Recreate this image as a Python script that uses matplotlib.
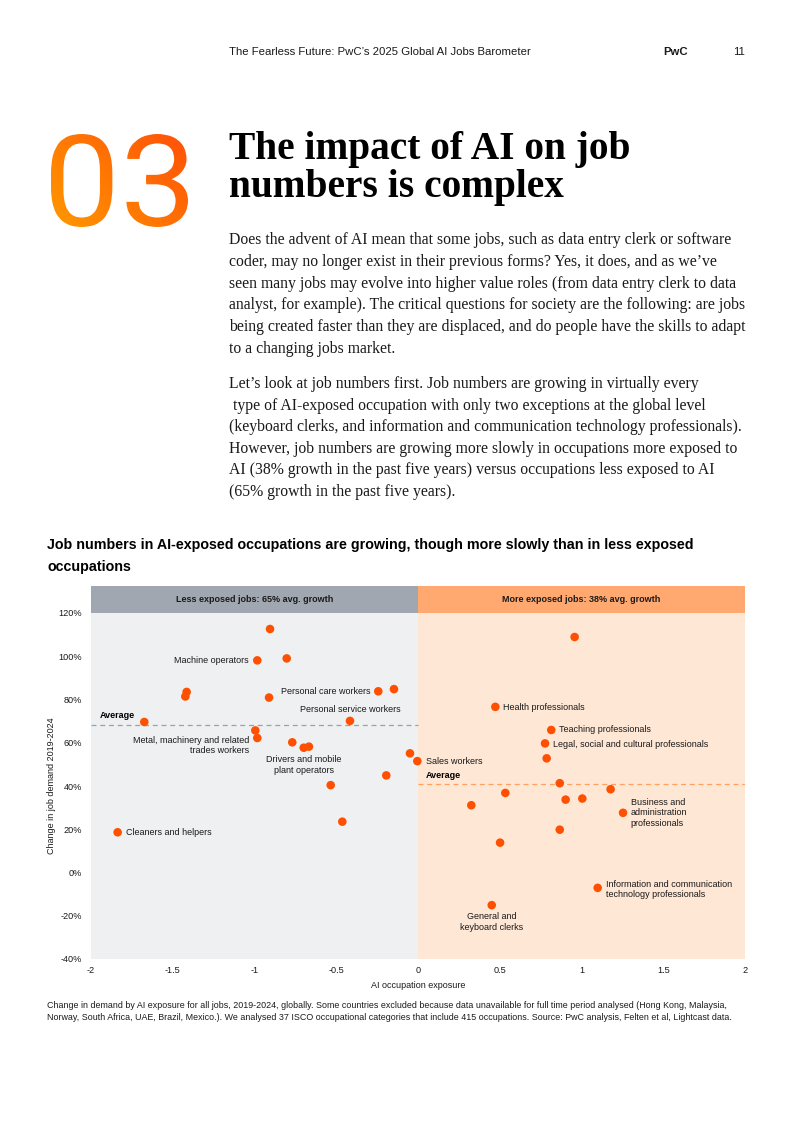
import matplotlib

matplotlib.use("Agg")  # headless
import matplotlib.pyplot as plt
import numpy as np
from matplotlib.font_manager import FontProperties
from matplotlib.patches import PathPatch, Rectangle
from matplotlib.textpath import TextPath
from matplotlib.ticker import FuncFormatter
from matplotlib.transforms import Affine2D

W, H = 793, 1121  # page size in px (dpi 100)

SANS = ["Liberation Sans", "DejaVu Sans"]
SERIF = ["Liberation Serif", "DejaVu Serif"]
INK = "#1a1a1a"
DOT = "#fe5000"

# ---- data --------------------------------------------------------------
exposure = [
    -0.905, -0.983, -0.803, -1.415, -1.423, -0.911, -0.243, -0.147, -1.674,
    -0.416, -0.995, -0.983, -0.769, -0.699, -0.667, -0.049, -0.004, -0.194,
    -0.534, -0.463, -1.837,
    0.958, 0.473, 0.815, 0.777, 0.787, 0.867, 1.178, 0.534, 0.903, 1.005,
    0.326, 1.254, 0.867, 0.502, 1.099, 0.451,
]
demand_change = [
    112.6, 98.1, 99.0, 83.5, 81.4, 80.9, 83.8, 84.8, 69.6,
    70.1, 65.7, 62.2, 60.2, 57.7, 58.2, 55.1, 51.5, 44.9,
    40.4, 23.5, 18.6,
    108.9, 76.6, 65.9, 59.7, 52.8, 41.3, 38.5, 36.8, 33.7, 34.2,
    31.1, 27.6, 19.8, 13.8, -7.1, -15.1,
]
occupation = [
    "", "Machine operators", "", "", "", "", "Personal care workers", "", "",
    "Personal service workers", "", "Metal, machinery and related\ntrades workers",
    "", "Drivers and mobile\nplant operators", "", "", "Sales workers", "",
    "", "", "Cleaners and helpers",
    "", "Health professionals", "Teaching professionals",
    "Legal, social and cultural professionals", "", "", "", "", "", "",
    "", "Business and\nadministration\nprofessionals", "", "",
    "Information and communication\ntechnology professionals",
    "General and\nkeyboard clerks",
]
avg_less = 68.1
avg_more = 40.9
band_labels = ["Less exposed jobs: 65% avg. growth",
               "More exposed jobs: 38% avg. growth"]
x_ticks = [-2, -1.5, -1, -0.5, 0, 0.5, 1, 1.5, 2]
y_ticks = [-40, -20, 0, 20, 40, 60, 80, 100, 120]

# label placement: offset in points from the dot, horizontal alignment
label_layout = {
    "Machine operators": (-6, 0, "right"),
    "Personal care workers": (-5.5, 0, "right"),
    "Personal service workers": (0, 7.9, "center"),
    "Metal, machinery and related\ntrades workers": (-6, -5.6, "right"),
    "Drivers and mobile\nplant operators": (0, -12.4, "center"),
    "Cleaners and helpers": (6, 0, "left"),
    "Sales workers": (6, 0, "left"),
    "Health professionals": (5.3, -0.5, "left"),
    "Teaching professionals": (5.5, 0, "left"),
    "Legal, social and cultural professionals": (5.5, -0.5, "left"),
    "Business and\nadministration\nprofessionals": (5.5, 0, "left"),
    "Information and communication\ntechnology professionals": (5.8, -1, "left"),
    "General and\nkeyboard clerks": (0, -12, "center"),
}

body_p1 = [
    "Does the advent of AI mean that some jobs, such as data entry clerk or software",
    "coder, may no longer exist in their previous forms? Yes, it does, and as we\u2019ve",
    "seen many jobs may evolve into higher value roles (from data entry clerk to data",
    "analyst, for example). The critical questions for society are the following: are jobs",
    "being created faster than they are displaced, and do people have the skills to adapt",
    "to a changing jobs market.",
]
body_p2 = [
    "Let\u2019s look at job numbers first. Job numbers are growing in virtually every",
    " type of AI-exposed occupation with only two exceptions at the global level",
    "(keyboard clerks, and information and communication technology professionals).",
    "However, job numbers are growing more slowly in occupations more exposed to",
    "AI (38% growth in the past five years) versus occupations less exposed to AI",
    "(65% growth in the past five years).",
]
footnote = [
    "Change in demand by AI exposure for all jobs, 2019-2024, globally. Some countries "
    "excluded because data unavailable for full time period analysed (Hong Kong, Malaysia,",
    "Norway, South Africa, UAE, Brazil, Mexico.). We analysed 37 ISCO occupational "
    "categories that include 415 occupations. Source: PwC analysis, Felten et al, Lightcast data.",
]


def fx(px):
    return px / W


def fy(py):
    return 1 - py / H


fig = plt.figure(figsize=(W / 100, H / 100), dpi=100)
fig.patch.set_facecolor("white")

# ---- page header ---------------------------------------------------------
fig.text(fx(229), fy(52), "The Fearless Future: PwC\u2019s 2025 Global AI Jobs Barometer",
         family=SANS, fontsize=8.2, color=INK, va="center")
fig.text(fx(663), fy(52), "PwC", family=SANS, fontsize=8.2, fontweight="bold",
         color=INK, va="center")
fig.text(fx(733), fy(52), "11", family=SANS, fontsize=8.2, color=INK, va="center")

# ---- big gradient "03" ---------------------------------------------------
page = fig.add_axes([0, 0, 1, 1], zorder=-1)
page.set_xlim(0, W)
page.set_ylim(0, H)
page.axis("off")
tp = TextPath((0, 0), "03", size=100,
              prop=FontProperties(family=["Roboto", "DejaVu Sans"], weight="normal"))
ext = tp.get_extents()
x0, x1, y0, y1 = 51, 188, H - 227, H - 134
tr = (Affine2D().translate(-ext.x0, -ext.y0)
      .scale((x1 - x0) / ext.width, (y1 - y0) / ext.height).translate(x0, y0))
patch = PathPatch(tr.transform_path(tp), facecolor="none", edgecolor="none")
page.add_patch(patch)
gx, gy = np.meshgrid(np.linspace(0, 1, 200), np.linspace(0, 1, 200))
t = np.clip(0.6 * gx + 0.4 * gy, 0, 1)
c0 = np.array([255, 152, 0]) / 255
c1 = np.array([255, 80, 8]) / 255
grad = c0[None, None, :] * (1 - t[..., None]) + c1[None, None, :] * t[..., None]
im = page.imshow(grad, extent=[x0, x1, y0, y1], origin="lower", aspect="auto")
im.set_clip_path(patch)

# ---- title and body ------------------------------------------------------
fig.text(fx(229), fy(159), "The impact of AI on job", family=SERIF, fontsize=28.4,
         fontweight="bold", color="black", va="baseline")
fig.text(fx(229), fy(196.5), "numbers is complex", family=SERIF, fontsize=28.4,
         fontweight="bold", color="black", va="baseline")
for i, line in enumerate(body_p1):
    fig.text(fx(229), fy(240 + 21.8 * i), line, family=SERIF, fontsize=11.3,
             color=INK, va="center")
for i, line in enumerate(body_p2):
    fig.text(fx(229), fy(384 + 21.6 * i), line, family=SERIF, fontsize=11.3,
             color=INK, va="center")

fig.text(fx(47), fy(545), "Job numbers in AI-exposed occupations are growing, though "
         "more slowly than in less exposed", family=SANS, fontsize=10.3,
         fontweight="bold", color="black", va="center")
fig.text(fx(47), fy(567), "occupations", family=SANS, fontsize=10.3,
         fontweight="bold", color="black", va="center")

# ---- scatter chart -------------------------------------------------------
ax = fig.add_axes([fx(91), fy(959), (745 - 91) / W, (959 - 613) / H])
ax.set_xlim(-2, 2)
ax.set_ylim(-40, 120)
ax.axvspan(-2, 0, color="#eef0f2", zorder=0, lw=0)
ax.axvspan(0, 2, color="#ffe7d5", zorder=0, lw=0)
band_h = 27 / (959 - 613)
for i, (lab, col) in enumerate(zip(band_labels, ["#a1a7b0", "#ffa870"])):
    ax.add_patch(Rectangle((0.5 * i, 1), 0.5, band_h, transform=ax.transAxes,
                           facecolor=col, edgecolor="none", clip_on=False))
    ax.text(0.25 + 0.5 * i, 1 + band_h / 2, lab, transform=ax.transAxes,
            ha="center", va="center", family=SANS, fontsize=6.5,
            fontweight="bold", color=INK)

ax.plot([-2, 0], [avg_less, avg_less], ls=(0, (4, 3)), color="#9ba2ad", lw=0.9, zorder=1)
ax.plot([0, 2], [avg_more, avg_more], ls=(0, (4, 3)), color="#ffa060", lw=0.9, zorder=1)
ax.annotate("Average", (-2, avg_less), xytext=(6, 6.7), textcoords="offset points",
            ha="left", va="center", family=SANS, fontsize=6.5, fontweight="bold",
            color="black")
ax.annotate("Average", (0, avg_more), xytext=(5.5, 6.2), textcoords="offset points",
            ha="left", va="center", family=SANS, fontsize=6.5, fontweight="bold",
            color="black")

ax.scatter(exposure, demand_change, s=38, color=DOT, edgecolors="none", zorder=3)
for x, y, name in zip(exposure, demand_change, occupation):
    if not name:
        continue
    dx, dy, ha = label_layout[name]
    ax.annotate(name, (x, y), xytext=(dx, dy), textcoords="offset points",
                ha=ha, va="center", multialignment=ha, family=SANS,
                fontsize=6.5, color=INK, zorder=4)

ax.set_xticks(x_ticks)
ax.set_yticks(y_ticks)
ax.xaxis.set_major_formatter(FuncFormatter(lambda v, p: f"{v:g}"))
ax.yaxis.set_major_formatter(FuncFormatter(lambda v, p: f"{v:g}%"))
ax.tick_params(length=0, labelsize=6.6, labelcolor=INK)
ax.tick_params(axis="y", pad=6.5)
ax.tick_params(axis="x", pad=5)
for lbl in ax.get_xticklabels() + ax.get_yticklabels():
    lbl.set_family(SANS)
for s in ax.spines.values():
    s.set_visible(False)

fig.text(fx(418), fy(985), "AI occupation exposure", family=SANS, fontsize=6.5,
         color=INK, ha="center", va="center")
fig.text(fx(52), fy(786), "Change in job demand 2019-2024", family=SANS,
         fontsize=6.5, color=INK, ha="center", va="center", rotation=90)

for i, line in enumerate(footnote):
    fig.text(fx(47), fy(1005 + 13 * i), line, family=SANS, fontsize=6.4,
             color=INK, va="center")

fig.savefig("out.png", dpi=100)
